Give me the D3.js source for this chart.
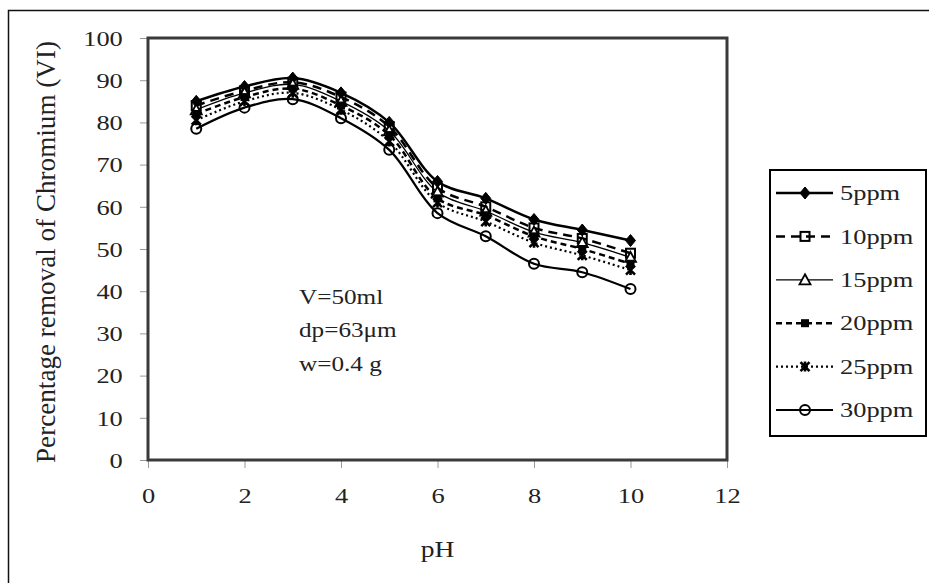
<!DOCTYPE html>
<html>
<head>
<meta charset="utf-8">
<script src="https://cdn.jsdelivr.net/npm/d3@7"></script>
<style>
  html, body { margin: 0; padding: 0; background: #fff; }
  svg { display: block; }
  text { font-family: "Liberation Serif", "Times New Roman", serif; fill: #222; }
</style>
</head>
<body>
<svg id="chart" width="929" height="583"></svg>
<script>
// pH values and percentage removal of Cr(VI) for each initial concentration
const pH = [1, 2, 3, 4, 5, 6, 7, 8, 9, 10];
const seriesNames = ["5ppm", "10ppm", "15ppm", "20ppm", "25ppm", "30ppm"];
const removal5 = [85, 88.5, 90.5, 87, 80, 66, 62, 57, 54.5, 52];
const removal10 = [84, 87.5, 89.5, 86, 79, 64.5, 60, 55, 52.5, 49];
const removal15 = [83, 87, 89, 85, 78, 63.5, 59, 54, 51.5, 48];
const removal20 = [82, 86, 88, 84, 77, 62, 58, 53, 50, 46.5];
const removal25 = [80.5, 85, 87, 83, 75.5, 61, 56.5, 51.5, 48.5, 45];
const removal30 = [78.5, 83.5, 85.5, 81, 73.5, 58.5, 53, 46.5, 44.5, 40.5];
const xTicks = [0, 2, 4, 6, 8, 10, 12];
const yTicks = [0, 10, 20, 30, 40, 50, 60, 70, 80, 90, 100];
const conditions = ["V=50ml", "dp=63\u03bcm", "w=0.4 g"];

const allSeries = [removal5, removal10, removal15, removal20, removal25, removal30];

// line and marker style per series
const styles = [
  { dash: null, width: 2.5, marker: "diamond" },
  { dash: "9,6", width: 2.5, marker: "squareOpen" },
  { dash: null, width: 1.3, marker: "triangle" },
  { dash: "6,4", width: 2.5, marker: "squareFilled" },
  { dash: "2,3", width: 2.2, marker: "cross" },
  { dash: null, width: 2.2, marker: "circle" }
];

const svg = d3.select("#chart");
const SX = 1.2; // horizontal text stretch

// outer frame
svg.append("rect").attr("x", 8.5).attr("y", 10.5).attr("width", 940).attr("height", 600)
  .attr("fill", "none").attr("stroke", "#111").attr("stroke-width", 1.5);

const x = d3.scaleLinear().domain([0, 12]).range([148, 727]);
const y = d3.scaleLinear().domain([0, 100]).range([460, 38]);

// axes
const yAxis = svg.append("g").attr("transform", `translate(${x(0)},0)`)
  .call(d3.axisLeft(y).tickValues(yTicks).tickSize(8).tickPadding(0).tickFormat(d3.format("d")));
const xAxis = svg.append("g").attr("transform", `translate(0,${y(0)})`)
  .call(d3.axisBottom(x).tickValues(xTicks).tickSize(8).tickPadding(0).tickFormat(d3.format("d")));
[yAxis, xAxis].forEach(g => {
  g.select(".domain").remove();
  g.selectAll(".tick line").attr("stroke", "#999").attr("stroke-width", 1);
  g.selectAll(".tick text").attr("font-size", 22).attr("fill", "#222")
    .style("font-family", "'Liberation Serif', serif");
});
yAxis.selectAll(".tick text").attr("x", -21).attr("dy", "0.33em")
  .attr("transform", `scale(${SX},1)`);
xAxis.selectAll(".tick text").attr("y", 36).attr("dy", "0.33em")
  .attr("transform", `scale(${SX},1)`)
  .attr("x", 0);

// plot frame
svg.append("rect").attr("x", x(0)).attr("y", y(100))
  .attr("width", x(12) - x(0)).attr("height", y(0) - y(100))
  .attr("fill", "none").attr("stroke", "#3a3a3a").attr("stroke-width", 3);

// axis titles
svg.append("text").attr("transform", `translate(${x(6)},549) scale(${SX},1)`)
  .attr("text-anchor", "middle").attr("dy", "0.33em").attr("font-size", 23).text("pH");
svg.append("text")
  .attr("transform", `translate(46,${(y(0) + y(100)) / 2 + 3}) scale(${SX},1) rotate(-90)`)
  .attr("text-anchor", "middle").attr("dy", "0.33em").attr("font-size", 22)
  .attr("textLength", 422).attr("lengthAdjust", "spacingAndGlyphs")
  .text("Percentage removal of Chromium (VI)");

// experimental conditions
svg.append("g").selectAll("text").data(conditions).join("text")
  .attr("transform", (d, i) => `translate(299,${297 + i * 33.5}) scale(${SX},1)`)
  .attr("dy", "0.33em").attr("font-size", 21).text(d => d);

// marker drawing
function drawMarker(g, type, cx, cy) {
  const m = g.append("g").attr("transform", `translate(${cx},${cy})`);
  if (type === "diamond") {
    m.append("path").attr("d", "M0,-6L5,0L0,6L-5,0Z").attr("fill", "#000").attr("stroke", "#000").attr("stroke-width", 1);
  } else if (type === "squareOpen") {
    m.append("rect").attr("x", -4.5).attr("y", -4.5).attr("width", 9).attr("height", 9)
      .attr("fill", "none").attr("stroke", "#000").attr("stroke-width", 2);
  } else if (type === "triangle") {
    m.append("path").attr("d", "M0,-5.5L5.5,4.5L-5.5,4.5Z").attr("fill", "#fff").attr("stroke", "#000").attr("stroke-width", 1.8);
  } else if (type === "squareFilled") {
    m.append("rect").attr("x", -4).attr("y", -4).attr("width", 8).attr("height", 8).attr("fill", "#000");
  } else if (type === "cross") {
    m.append("path").attr("d", "M-4.5,-4.5L4.5,4.5M4.5,-4.5L-4.5,4.5M0,-5L0,5")
      .attr("stroke", "#000").attr("stroke-width", 2.6).attr("fill", "none");
  } else if (type === "circle") {
    m.append("circle").attr("r", 5).attr("fill", "none").attr("stroke", "#000").attr("stroke-width", 2);
  }
}

// series lines
const line = d3.line().x((d, i) => x(pH[i])).y(d => y(d)).curve(d3.curveCatmullRom.alpha(0.5));
const plot = svg.append("g");
allSeries.forEach((vals, k) => {
  const st = styles[k];
  plot.append("path").datum(vals).attr("d", line)
    .attr("fill", "none").attr("stroke", "#000").attr("stroke-width", st.width)
    .attr("stroke-dasharray", st.dash);
});
allSeries.forEach((vals, k) => {
  const g = plot.append("g");
  vals.forEach((v, i) => drawMarker(g, styles[k].marker, x(pH[i]), y(v)));
});

// legend
const legend = svg.append("g");
legend.append("rect").attr("x", 770).attr("y", 170).attr("width", 156).attr("height", 266)
  .attr("fill", "#fff").attr("stroke", "#000").attr("stroke-width", 2);
seriesNames.forEach((name, k) => {
  const ly = 193 + k * 43.4;
  const st = styles[k];
  legend.append("line").attr("x1", 776).attr("x2", 833).attr("y1", ly).attr("y2", ly)
    .attr("stroke", "#000").attr("stroke-width", st.width).attr("stroke-dasharray", st.dash);
  drawMarker(legend, st.marker, 805, ly);
  legend.append("text").attr("transform", `translate(840,${ly}) scale(${SX},1)`)
    .attr("dy", "0.33em").attr("font-size", 22).text(name);
});
</script>
</body>
</html>
